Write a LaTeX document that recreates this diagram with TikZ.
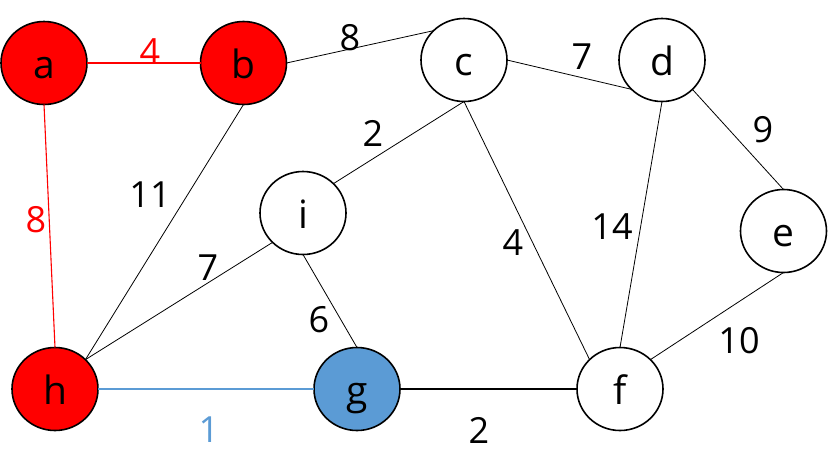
\documentclass[tikz,border=0pt]{standalone}
\usepackage{fontspec}
\setmainfont{Open Sans}
\usetikzlibrary{shapes.geometric}
\definecolor{myred}{RGB}{255,0,0}
\definecolor{myblue}{RGB}{91,155,213}
\begin{document}
\begin{tikzpicture}[x=1pt,y=-1pt,
 vert/.style={ellipse,draw=black,line width=1.6pt,minimum width=86pt,minimum height=83pt,inner sep=0pt,outer sep=0pt,text height=30pt,text depth=0pt,font=\fontsize{39}{40}\selectfont},
 edge/.style={line width=0.8pt},
 hedge/.style={line width=1.1pt},
 lbl/.style={font=\fontsize{36}{40}\selectfont,inner sep=0pt}]
\useasboundingbox (0,0) rectangle (828,475);
\node[vert,fill=myred] (a) at (44,63) {a};
\node[vert,fill=myred] (b) at (243.5,63) {b};
\node[vert,fill=white] (c) at (464,60) {c};
\node[vert,fill=white] (d) at (662,60) {d};
\node[vert,fill=white] (e) at (783.5,231) {e};
\node[vert,fill=white] (f) at (620,389) {f};
\node[vert,fill=myred] (h) at (55,389) {h};
\node[vert,fill=myblue] (g) at (357,389) {g};
\node[vert,fill=white] (i) at (303,213) {i};
\draw[hedge,myred] (a.east) -- (b.west);
\draw[hedge,myred] (a.south) -- (h.north);
\draw[edge] (b.east) -- (c.north west);
\draw[edge] (b.south) -- (h.north east);
\draw[edge] (c.east) -- (d.south west);
\draw[edge] (c.south) -- (i.north east);
\draw[edge] (c.south) -- (f.north west);
\draw[edge] (d.south) -- (f.north);
\draw[edge] (d.south east) -- (e.north);
\draw[edge] (e.south) -- (f.north east);
\draw[edge] (i.south west) -- (h.north east);
\draw[edge] (i.south) -- (g.north);
\draw[hedge,myblue] (h.east) -- (g.west);
\draw[hedge] (g.east) -- (f.west);
\node[lbl,text=myred] (l1) at (150,52) {4};
\node[lbl] (l2) at (350,38) {8};
\node[lbl] (l3) at (582,57) {7};
\node[lbl] (l4) at (763,130) {9};
\node[lbl] (l5) at (373,133) {2};
\node[lbl] (l6) at (150,195) {11};
\node[lbl,text=myred] (l7) at (36,220) {8};
\node[lbl] (l8) at (612,227) {14};
\node[lbl] (l9) at (513,243) {4};
\node[lbl] (l10) at (208,268) {7};
\node[lbl] (l11) at (319,320) {6};
\node[lbl] (l12) at (739,341) {10};
\node[lbl,text=myblue] (l13) at (209,430) {1};
\node[lbl] (l14) at (479,430) {2};
\end{tikzpicture}
\end{document}
